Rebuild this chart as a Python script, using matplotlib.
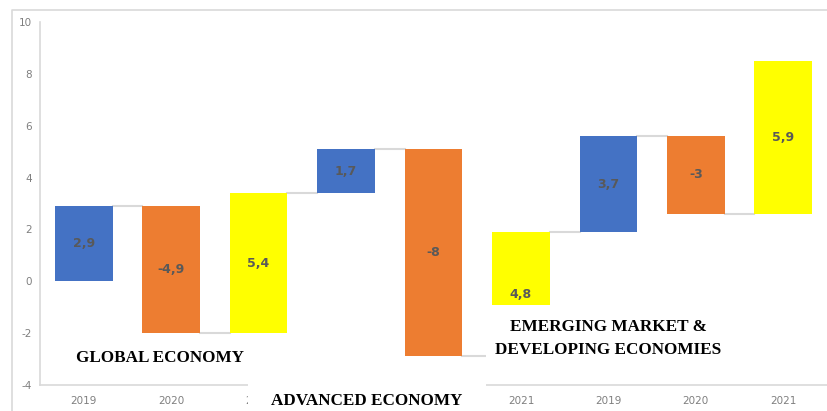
import matplotlib.pyplot as plt
from matplotlib.lines import Line2D
from matplotlib.patches import Rectangle
import numpy as np

W, H = 827, 411

years = ["2019", "2020", "2021", "2019", "2020", "2021", "2019", "2020", "2021"]
changes = [2.9, -4.9, 5.4, 1.7, -8, 4.8, 3.7, -3, 5.9]
bar_colors = ["#4472C4", "#ED7D31", "#FFFF00"] * 3
y_ticks = [-4, -2, 0, 2, 4, 6, 8, 10]
# year labels hidden behind the pasted "ADVANCED ECONOMY" box
hidden_ticks = [3, 4]

GRID = "#d9d9d9"
TICK = "#7f7f7f"

x = np.arange(len(changes))
ends = np.cumsum(changes)
starts = ends - np.array(changes)
bottoms = np.minimum(starts, ends)
heights = np.abs(changes)

fig = plt.figure(figsize=(W / 100, H / 100), dpi=100)
ax = fig.add_axes([40 / W, (H - 385) / H, (W - 40) / W, (385 - 22) / H])

width = 0.66
ax.bar(x, heights, bottom=bottoms, width=width, color=bar_colors, zorder=3)

# connector lines between consecutive bars
for i in range(len(changes) - 1):
    ax.plot([x[i] + width / 2, x[i + 1] - width / 2], [ends[i], ends[i]],
            color=GRID, linewidth=1.5, zorder=2)

for xi, b, h, v in zip(x, bottoms, heights, changes):
    label = f"{v:g}".replace(".", ",")
    ax.text(xi, b + h / 2, label, ha="center", va="center", fontsize=9,
            fontweight="bold", color="#595959", zorder=4)

ax.set_xlim(-0.5, len(changes) - 0.5)
ax.set_ylim(-4, 10)
ax.set_xticks(x)
ax.set_xticklabels(["" if i in hidden_ticks else y for i, y in enumerate(years)],
                   fontsize=7.5, color=TICK)
ax.set_yticks(y_ticks)
ax.set_yticklabels([str(t) for t in y_ticks], fontsize=7.5, color=TICK)
ax.tick_params(length=0)
ax.tick_params(axis="x", pad=8)
ax.tick_params(axis="y", pad=6)
for side in ["top", "right"]:
    ax.spines[side].set_visible(False)
for side in ["left", "bottom"]:
    ax.spines[side].set_color(GRID)
    ax.spines[side].set_linewidth(1.2)

# outer chart frame (left and top edges only, the rest is cropped)
fig.add_artist(Line2D([12 / W, 12 / W, 1], [0, 1 - 10 / H, 1 - 10 / H],
                      transform=fig.transFigure, color=GRID, linewidth=1.2,
                      zorder=0))

# white text boxes pasted over the chart
for x0, y0, x1, y1 in [(248, 380, 486, 411), (486, 305, 740, 372)]:
    fig.add_artist(Rectangle((x0 / W, 1 - y1 / H), (x1 - x0) / W, (y1 - y0) / H,
                             transform=fig.transFigure, facecolor="white",
                             edgecolor="none", zorder=5))

titles = [
    (160, 358, "GLOBAL ECONOMY"),
    (367, 401, "ADVANCED ECONOMY"),
    (608, 327, "EMERGING MARKET &"),
    (608, 350, "DEVELOPING ECONOMIES"),
]
for tx, ty, t in titles:
    fig.text(tx / W, 1 - ty / H, t, ha="center", va="center", fontsize=12.3,
             fontweight="bold", family="Liberation Serif", color="black", zorder=6)

fig.savefig("out.png", dpi=100)
